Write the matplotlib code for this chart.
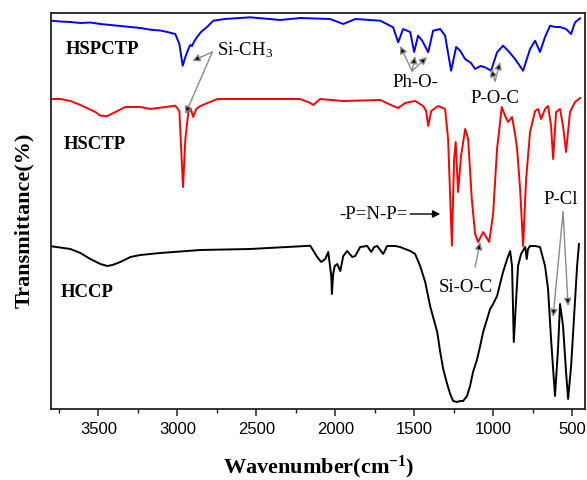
import matplotlib
matplotlib.use("Agg")
import matplotlib.pyplot as plt
from matplotlib.ticker import MultipleLocator

plt.rcParams['mathtext.fontset'] = 'custom'
plt.rcParams['mathtext.rm'] = 'Liberation Serif'
plt.rcParams['mathtext.it'] = 'Liberation Serif:italic'
plt.rcParams['mathtext.bf'] = 'Liberation Serif:bold'

# ---------------- data (wavenumber in cm-1, transmittance in arbitrary offset units) -------------
hspctp_wn = [3797, 3741, 3677, 3614, 3551, 3487, 3361, 3234, 3171, 3108, 3063, 3013, 2987, 2966,
             2949, 2930, 2918, 2907, 2892, 2875, 2850, 2812, 2772, 2700, 2538, 2348, 2222, 2032,
             1949, 1873, 1715, 1633, 1601, 1570, 1525, 1500, 1475, 1449, 1411, 1380, 1335, 1304,
             1266, 1234, 1209, 1177, 1140, 1114, 1080, 1051, 1013, 975, 937, 905, 861, 810, 766,
             734, 703, 671, 639, 608, 576, 538, 506, 481, 449]
hspctp_t = [388.3, 387.5, 387, 386, 386.5, 385, 383, 381, 379.3, 378.5, 377, 375, 365, 343.3,
            352, 360, 364, 363, 368, 372, 377, 382, 388.3, 390, 391.7, 389, 391, 390,
            385, 390, 388.3, 381.7, 366.7, 380, 377, 357, 373.3, 368.3, 356.7, 378.3, 380, 373.3,
            338.3, 362, 358.3, 350, 346, 340, 343, 341.7, 338.3, 356.7, 363.3, 358.3, 350, 338.3, 360,
            368.3, 357, 372, 383.3, 382, 382, 380, 375, 386.7, 390.7]

hsctp_wn = [3797, 3741, 3677, 3614, 3519, 3487, 3443, 3392, 3329, 3234, 3171, 3013, 2987, 2964,
            2949, 2930, 2915, 2899, 2880, 2854, 2747, 2222, 2158, 2139, 2095, 1949, 1715, 1633,
            1601, 1557, 1494, 1443, 1424, 1411, 1392, 1348, 1304, 1285, 1261, 1247, 1237, 1222,
            1203, 1177, 1158, 1135, 1114, 1095, 1063, 1025, 1000, 975, 945, 924, 905, 880, 861,
            848, 829, 810, 791, 766, 734, 715, 696, 671, 652, 633, 620, 601, 576, 557, 538, 513,
            481, 449]
hsctp_t = [310, 310, 308, 304, 297, 293.3, 293, 297, 302, 302, 300, 303.3, 298, 222,
           270, 297, 300, 292, 300, 303, 310, 310, 306, 304, 310, 308, 309, 303,
           301, 306, 308, 303, 298, 283, 298, 303, 300, 270, 163.3, 250, 267, 217,
           253, 280, 270, 210, 175, 167, 177, 167, 195, 260, 302, 293, 287, 292, 275,
           260, 220, 163, 230, 277, 298, 300, 290, 300, 303, 283, 250, 297, 300, 283, 257, 297,
           307, 311]

hccp_wn = [3797, 3677, 3614, 3551, 3487, 3443, 3411, 3361, 3297, 3234, 3108, 2854, 2538, 2222,
           2158, 2114, 2089, 2063, 2044, 2025, 2021, 2013, 2003, 1987, 1968, 1949, 1924, 1892,
           1873, 1842, 1797, 1772, 1753, 1734, 1696, 1671, 1620, 1589, 1525, 1494, 1462, 1430,
           1399, 1380, 1354, 1335, 1316, 1291, 1272, 1253, 1228, 1209, 1190, 1165, 1146, 1127,
           1101, 1082, 1063, 1038, 1019, 1000, 975, 956, 937, 911, 892, 880, 869, 854, 842, 823,
           797, 787, 779, 766, 734, 703, 671, 652, 633, 608, 589, 576, 557, 538, 525, 506, 487,
           468, 456]
hccp_t = [162.7, 160, 156, 150, 145, 143, 144, 147, 152, 154, 156, 159, 160, 162.7,
          163.3, 152, 147, 150, 157, 133, 115, 135, 143, 145, 138, 153, 158, 152,
          153, 162, 163, 157, 162, 163, 155, 163, 163, 162, 158, 155, 143, 127,
          103, 92, 77, 57, 40, 25, 15, 8, 7, 8, 8, 13, 23, 37,
          50, 63, 77, 90, 100, 105, 113, 125, 137, 150, 158, 143, 67, 110, 143, 155,
          162, 150, 160, 163, 163, 162, 143, 120, 70, 13, 60, 105, 83, 37, 10, 43, 93,
          143, 165]

series_names = ['HSPCTP', 'HSCTP', 'HCCP']
series_colors = ['#0000ff', '#ff0000', '#000000']
series_label_pos = [(3709, 360), (3722, 265), (3740, 117)]

xticks = [3500, 3000, 2500, 2000, 1500, 1000, 500]

# ---------------- figure ----------------
fig = plt.figure(figsize=(5.87, 4.81), dpi=100)
ax = fig.add_axes([51/587, 71/481, 534/587, 396/481])

for wn, t, c in zip([hspctp_wn, hsctp_wn, hccp_wn], [hspctp_t, hsctp_t, hccp_t], series_colors):
    ax.plot(wn, t, color=c, lw=1.4, solid_joinstyle='round')

ax.set_xlim(3800, 418)
ax.set_ylim(0, 396)
ax.set_xticks(xticks)
ax.set_xticklabels([str(v) for v in xticks], family='Liberation Sans', fontsize=12)
ax.xaxis.set_minor_locator(MultipleLocator(250))
ax.tick_params(axis='x', which='major', direction='out', length=5, width=1.1, pad=4, color='#222222')
ax.tick_params(axis='x', which='minor', direction='out', length=3, width=1.0, color='#222222')
ax.set_yticks([])
for s in ax.spines.values():
    s.set_linewidth(1.3)
    s.set_color('#222222')

ax.set_xlabel(r'Wavenumber(cm$^{\mathbf{-1}}$)', family='Liberation Serif', fontweight='bold', fontsize=16)
ax.xaxis.label.set_va('center')
ax.xaxis.set_label_coords(0.502, -0.146)
ax.set_ylabel('Transmittance(%)', family='Liberation Serif', fontweight='bold', fontsize=16)
ax.yaxis.label.set_va('center')
ax.yaxis.set_label_coords(-0.0506, 0.48)

for name, (x, y) in zip(series_names, series_label_pos):
    ax.text(x, y, name, family='Liberation Serif', fontweight='bold', fontsize=13.5,
            ha='left', va='center')

tf = dict(family='Liberation Serif', fontsize=13.5)
gray_arrow = dict(arrowstyle='-|>', ec='#8a8a8a', fc='black', lw=1.0, mutation_scale=11,
                  shrinkA=0, shrinkB=0)
black_arrow = dict(arrowstyle='-|>', ec='black', fc='black', lw=1.0, mutation_scale=11,
                   shrinkA=0, shrinkB=0)

# Si-CH3
ax.text(2747, 360, r'Si-CH$_3$', ha='left', va='center', **tf)
for hx, hy in [(2905, 348), (2949, 295)]:
    ax.annotate('', xy=(hx, hy), xytext=(2778, 357), arrowprops=gray_arrow)
# Ph-O-
ax.text(1494, 327, 'Ph-O-', ha='center', va='center', **tf)
for hx, hy in [(1589, 363), (1494, 353), (1418, 352)]:
    ax.annotate('', xy=(hx, hy), xytext=(1513, 338), arrowprops=gray_arrow)
# P-O-C
ax.text(987, 311, 'P-O-C', ha='center', va='center', **tf)
for hx, hy in [(1013, 340), (956, 347)]:
    ax.annotate('', xy=(hx, hy), xytext=(987, 328), arrowprops=gray_arrow)
# -P=N-P=
ax.text(1756, 195, '-P=N-P=', ha='center', va='center', **tf)
ax.annotate('', xy=(1335, 195), xytext=(1525, 195), arrowprops=black_arrow)
# Si-O-C
ax.text(1174, 122, 'Si-O-C', ha='center', va='center', **tf)
ax.annotate('', xy=(1082, 167), xytext=(1114, 142), arrowprops=gray_arrow)
# P-Cl
ax.text(573, 210, 'P-Cl', ha='center', va='center', **tf)
for hx, hy in [(620, 92), (525, 103)]:
    ax.annotate('', xy=(hx, hy), xytext=(557, 197), arrowprops=gray_arrow)

fig.savefig('out.png', dpi=100)
